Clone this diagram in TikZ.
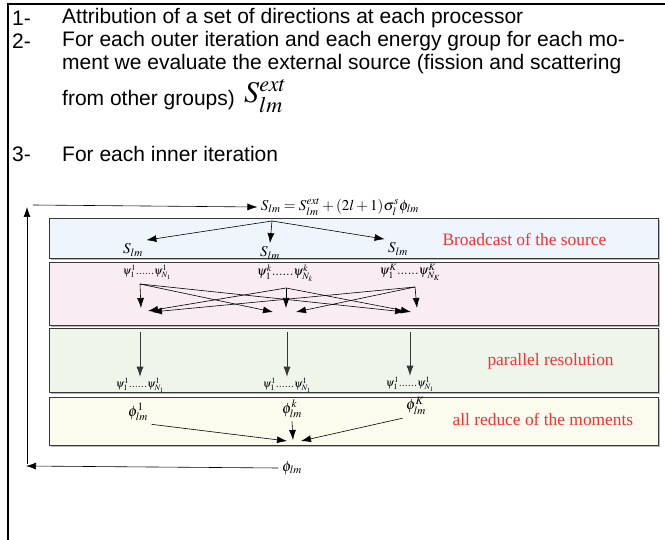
\documentclass[tikz,border=0pt]{standalone}
\usepackage{mathptmx}
\usepackage{fontspec}
\setmainfont{Liberation Serif}
\newfontfamily\tnr{Liberation Serif}
\newfontfamily\arl{Liberation Sans}
\usetikzlibrary{arrows.meta,positioning,shadows}
\definecolor{srcblue}{RGB}{238,245,252}
\definecolor{fluxpink}{RGB}{249,237,243}
\definecolor{solvgreen}{RGB}{238,245,235}
\definecolor{redyellow}{RGB}{251,251,238}
\definecolor{tagred}{RGB}{255,45,45}
\definecolor{edge}{RGB}{55,55,55}
\newcommand{\psis}[2]{$\psi^{#1}_1......\psi^{#1}_{N_{#2}}$}

\begin{document}
\begin{tikzpicture}[x=1pt,y=-1pt,font=\tnr\fontsize{15}{17}\selectfont,
  band/.style={draw=edge,line width=0.8pt,anchor=north west,minimum width=609pt,inner sep=0pt,
    drop shadow={shadow xshift=1.5pt,shadow yshift=-1.5pt,fill=gray!55,opacity=1}},
  arr/.style={-{Latex[length=10pt,width=7pt]},line width=0.6pt},
  tag/.style={tagred,anchor=west,font=\tnr\fontsize{17.4}{20}\selectfont},
  item/.style={anchor=west,inner sep=0pt,font=\arl\fontsize{21}{23}\selectfont},
  small/.style={inner sep=1pt,font=\tnr\fontsize{11}{13}\selectfont}]
\useasboundingbox (0,0) rectangle (665,540);
% outer frame
\draw[line width=2pt] (8,541) -- (8,4) -- (666,4);
% algorithm steps
\node[item] (n1) at (12,18) {1-};
\node[item] (l1) at (62,18) {Attribution of a set of directions at each processor};
\node[item] (n2) at (12,41) {2-};
\node[item] (l2) at (62,41) {For each outer iteration and each energy group for each mo-};
\node[item] (l3) at (62,64) {ment we evaluate the external source (fission and scattering};
\node[item] (l4) at (62,100) {from other groups)};
\node[anchor=west,inner sep=0pt,font=\fontsize{30}{32}\selectfont] (sext) at (244,96) {$S_{lm}^{ext}$};
\node[item] (n3) at (12,154) {3-};
\node[item] (l5) at (62,154) {For each inner iteration};
% the four stages
\node[band,fill=srcblue,minimum height=40pt] (bcast) at (49,218) {};
\node[band,fill=fluxpink,minimum height=63pt] (xchg) at (49,262) {};
\node[band,fill=solvgreen,minimum height=64pt] (solve) at (49,328) {};
\node[band,fill=redyellow,minimum height=48pt] (reduce) at (49,397) {};
\node[tag] (tbc) at (439,239) {Broadcast of the source};
\node[tag] (tpr) at (484,361) {parallel resolution};
\node[tag] (tar) at (449,419) {all reduce of the moments};
% source
\node (eq) at (340,207) {$S_{lm}=S_{lm}^{ext}+(2l+1)\sigma_l^s\phi_{lm}$};
\coordinate (bsrc) at (272,221);
\node (sl) at (133,250) {$S_{lm}$};
\node (sm) at (270,253) {$S_{lm}$};
\node (sr) at (398,249) {$S_{lm}$};
\draw[arr] (bsrc) -- (sl.north east);
\draw[arr] (bsrc) -- (sm.north);
\draw[arr] (bsrc) -- (sr.north west);
% angular fluxes exchanged between processors
\node[small] (p1) at (147,272) {\psis{1}{1}};
\node[small,font=\tnr\fontsize{13}{15}\selectfont] (p2) at (285,273) {\psis{k}{k}};
\node[small,font=\tnr\fontsize{13}{15}\selectfont] (p3) at (410,272) {\psis{K}{K}};
\coordinate (s1) at (140,284);
\coordinate (s2) at (286,288);
\coordinate (s3) at (415,287);
\foreach \n/\x/\y in {t1a/141/308,t1b/148/311,t1c/152/312,t2a/273/312,t2b/286/308,t2c/296/312,t3a/405/312,t3b/411/312,t3c/417/308}
  \coordinate (\n) at (\x,\y);
\foreach \s/\t in {s1/t1a,s1/t2a,s1/t3a,s2/t1b,s2/t2b,s2/t3b,s3/t1c,s3/t2c,s3/t3c}
  \draw[arr] (\s) -- (\t);
% local sweeps
\foreach \i/\x/\y in {1/140/385,2/287/385,3/410/384}{
  \node[small] (q\i) at (\x,\y) {\psis{1}{1}};
  \coordinate (g\i) at (\x,332);
  \draw[arr,edge] (g\i) -- (q\i.north);
}
% moments
\node (f1) at (138,412) {$\phi_{lm}^1$};
\node (f2) at (292,409) {$\phi_{lm}^k$};
\node (f3) at (416,406) {$\phi_{lm}^K$};
\coordinate (c1) at (287,441);
\coordinate (c2) at (293,440);
\coordinate (c3) at (301,441);
\draw[arr] (f1.south east) -- (c1);
\draw[arr] (f2.south) -- (c2);
\draw[arr] (f3.south west) -- (c3);
\node (phi) at (292,468) {$\phi_{lm}$};
% iteration loop
\coordinate (lb) at (26,466);
\coordinate (lt) at (27,207);
\coordinate (ls) at (33,205);
\draw[arr] (phi.west) -- (lb);
\draw[arr] (27,464) -- (lt);
\draw[arr] (ls) -- (eq.west);
\end{tikzpicture}
\end{document}
